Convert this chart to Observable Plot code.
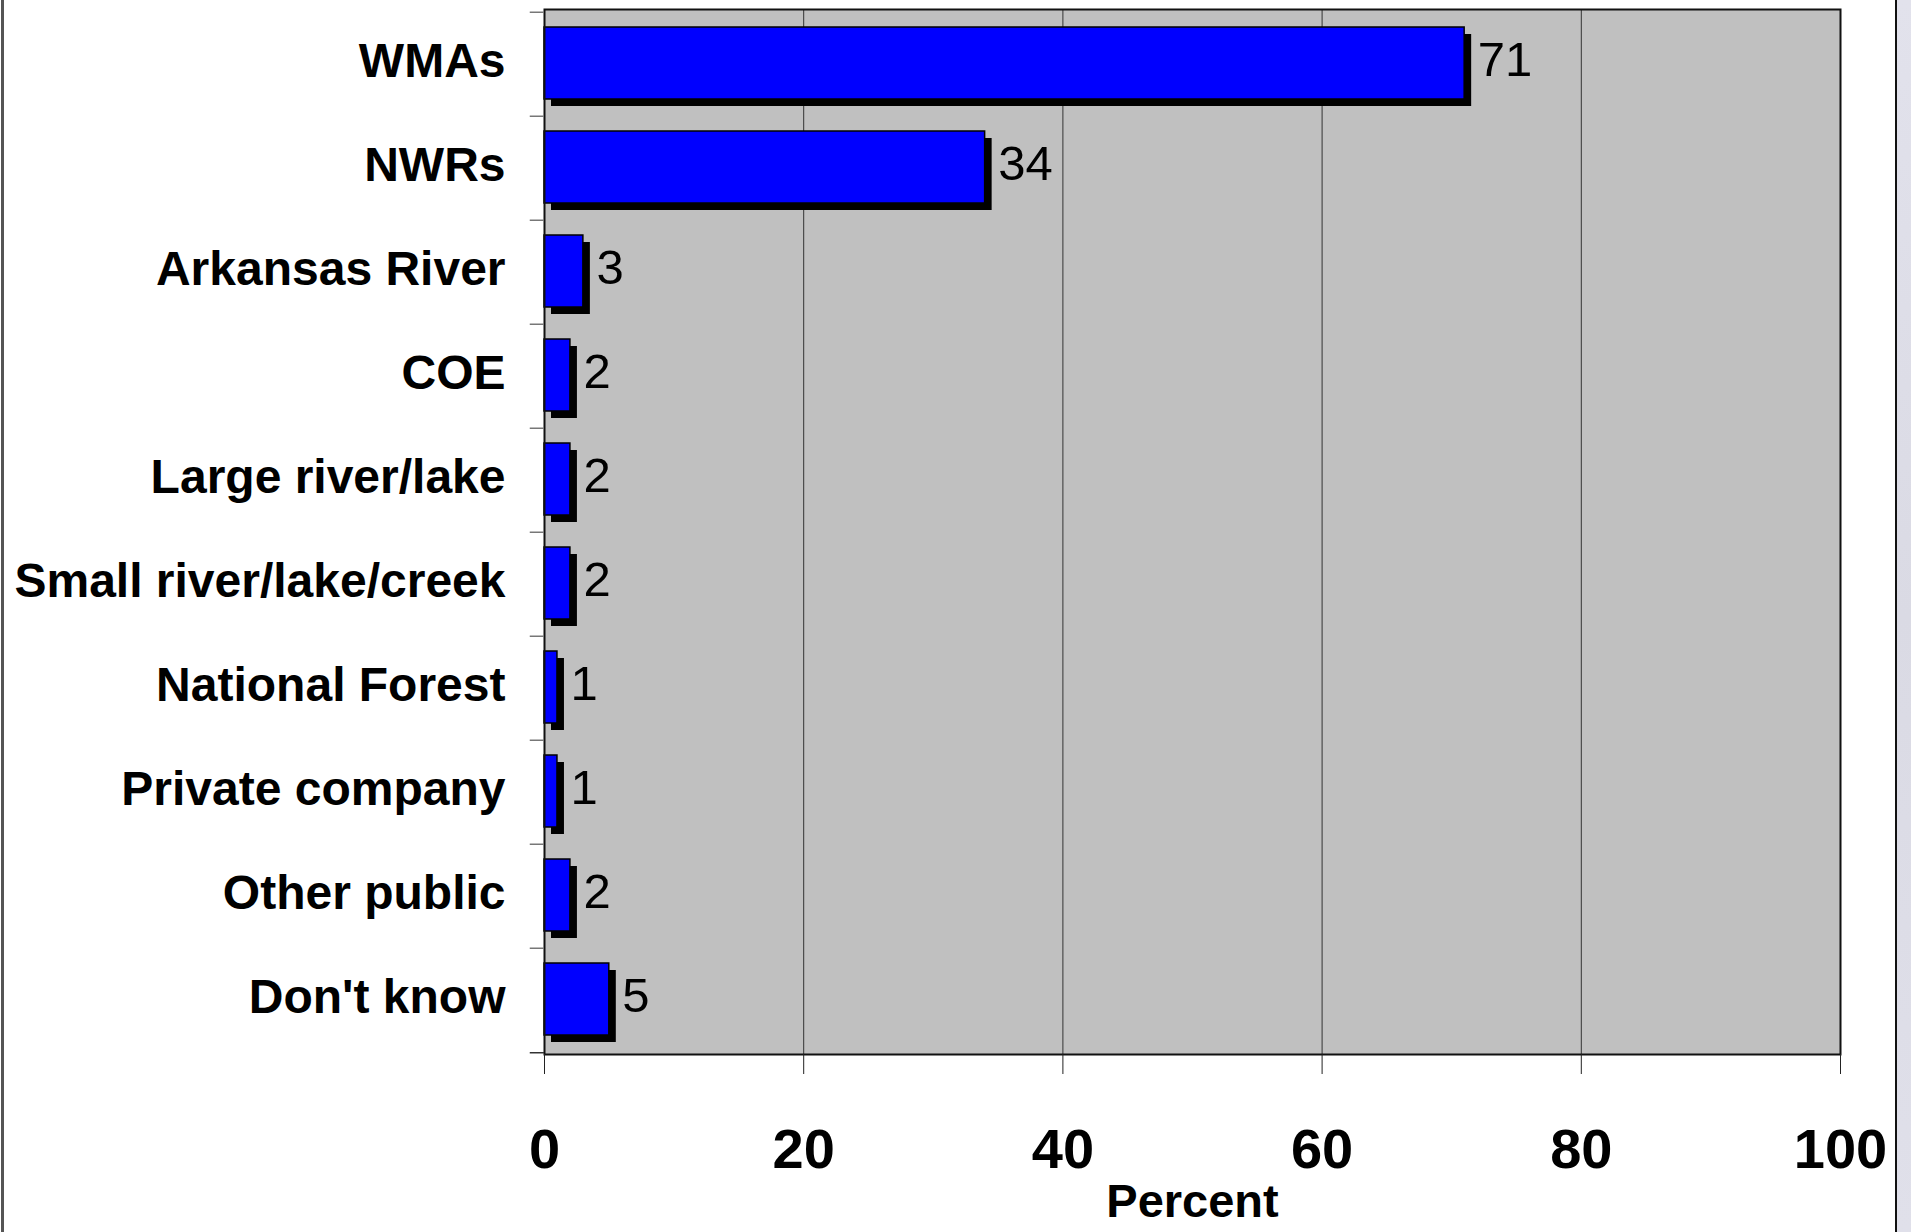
<!DOCTYPE html>
<html>
<head>
<meta charset="utf-8">
<script src="https://cdn.jsdelivr.net/npm/d3@7"></script>
<script src="https://cdn.jsdelivr.net/npm/@observablehq/plot@0.6"></script>
<style>
  html, body { margin: 0; padding: 0; background: #fff; }
  #wrap { position: relative; width: 1916px; height: 1232px; overflow: hidden; background: #fff; }
  #chart { position: absolute; left: 0; top: 0; }
  #lborder { position: absolute; left: 1px; top: 0; width: 3px; height: 1232px; background: #555; }
  #rborder { position: absolute; left: 1895px; top: 0; width: 2px; height: 1232px; background: #111; }
  #rstrip { position: absolute; left: 1897px; top: 0; width: 14px; height: 1232px; background: linear-gradient(#e2e2ec, #dadae4 50%, #e0e0ea); }
</style>
</head>
<body>
<div id="wrap">
  <div id="chart"></div>
  <div id="lborder"></div>
  <div id="rborder"></div>
  <div id="rstrip"></div>
</div>
<script>
// ---- data ----
const categories = [
  "WMAs",
  "NWRs",
  "Arkansas River",
  "COE",
  "Large river/lake",
  "Small river/lake/creek",
  "National Forest",
  "Private company",
  "Other public",
  "Don't know"
];
const percents = [71, 34, 3, 2, 2, 2, 1, 1, 2, 5];
const xTicks = [0, 20, 40, 60, 80, 100];
const xLabel = "Percent";

const data = categories.map((c, i) => ({category: c, value: percents[i]}));

// ---- layout ----
const W = 1916, H = 1232;
const mL = 544, mR = 76, mT = 9, mB = 178;
const step = (H - mT - mB) / categories.length;
const baseFont = "'Liberation Sans', Arial, Helvetica, sans-serif";
const narrowFont = "'Liberation Sans Narrow', 'Arial Narrow', 'Liberation Sans', Arial, sans-serif";

const chart = Plot.plot({
  width: W,
  height: H,
  marginLeft: mL,
  marginRight: mR,
  marginTop: mT,
  marginBottom: mB,
  style: {fontFamily: baseFont, background: "transparent", overflow: "visible", color: "#000"},
  x: {domain: [0, 100]},
  y: {domain: categories, padding: 0},
  marks: [
    Plot.frame({fill: "#c0c0c0"}),
    Plot.ruleX(xTicks.slice(1, -1), {stroke: "#333", strokeWidth: 1}),
    // drop shadow
    Plot.barX(data, {y: "category", x: "value", fill: "#000", insetTop: 15, insetBottom: 17, dx: 7, dy: 7}),
    // bars
    Plot.barX(data, {y: "category", x: "value", fill: "#0000ff", stroke: "#000", strokeWidth: 1.5, insetTop: 15, insetBottom: 17}),
    // value labels
    Plot.text(data, {
      y: "category", x: "value", text: d => String(d.value),
      dx: 13, dy: -4, textAnchor: "start", fontSize: 49, fontFamily: narrowFont, fill: "#000"
    }),
    Plot.frame({stroke: "#111", strokeWidth: 2}),
    // category boundary ticks on the y axis
    Plot.ruleY(categories, {y: d => d, x1: -1.1, x2: 0, dy: -step / 2, stroke: "#777", strokeWidth: 1.5}),
    Plot.ruleY([categories[categories.length - 1]], {y: d => d, x1: -1.1, x2: 0, dy: step / 2, stroke: "#333", strokeWidth: 1.5}),
    Plot.axisY({
      tickSize: 0, tickPadding: 39, fontSize: 48, fontWeight: "bold", fill: "#000",
      label: null, textOverflow: null, dy: -3
    }),
    Plot.axisX({
      ticks: xTicks, tickSize: 20, tickPadding: 54, fontSize: 56, fontWeight: "bold",
      stroke: "#222", fill: "#000", label: null, tickFormat: d => String(d)
    }),
    Plot.text([xLabel], {
      frameAnchor: "bottom", text: d => d, dy: 162, fontSize: 47, fontWeight: "bold", fill: "#000"
    })
  ]
});
document.getElementById("chart").appendChild(chart);
</script>
</body>
</html>
